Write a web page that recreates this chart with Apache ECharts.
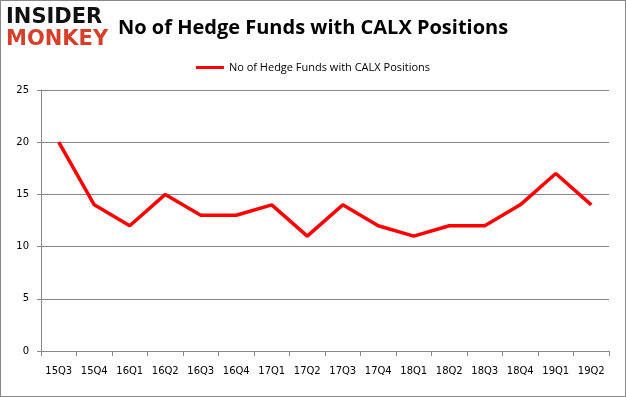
<!DOCTYPE html>
<html>
<head>
<meta charset="utf-8">
<script src="https://cdn.jsdelivr.net/npm/echarts@6/dist/echarts.min.js"></script>
<style>
  html, body { margin: 0; padding: 0; background: #fff; }
  #chart { width: 626px; height: 397px; box-sizing: border-box; border: 1px solid #888; }
</style>
</head>
<body>
<div id="chart"></div>
<script>
// quarters and hedge fund counts
const quarters = ['15Q3', '15Q4', '16Q1', '16Q2', '16Q3', '16Q4', '17Q1', '17Q2',
  '17Q3', '17Q4', '18Q1', '18Q2', '18Q3', '18Q4', '19Q1', '19Q2'];
const fundCounts = [20, 14, 12, 15, 13, 13, 14, 11, 14, 12, 11, 12, 12, 14, 17, 14];
const seriesName = 'No of Hedge Funds with CALX Positions';

const chart = echarts.init(document.getElementById('chart'));

chart.setOption({
  animation: false,
  title: {
    text: 'No of Hedge Funds with CALX Positions',
    left: 112,
    top: 12,
    textStyle: { fontFamily: 'Open Sans', fontWeight: 'bold', fontSize: 20, color: '#000' }
  },
  graphic: [
    {
      type: 'text', left: 5, top: 6,
      style: { text: 'INSIDER', font: '900 21px "DejaVu Sans"', fill: '#111' }
    },
    {
      type: 'text', left: 5, top: 28,
      style: { text: 'MONKEY', font: '900 21px "DejaVu Sans"', fill: '#d6402b' }
    }
  ],
  legend: {
    data: [seriesName],
    top: 56,
    left: 'center',
    itemWidth: 28,
    itemHeight: 3,
    icon: 'rect',
    textStyle: { fontFamily: 'Open Sans', fontSize: 11, color: '#000' }
  },
  grid: { left: 40, right: 16, top: 89, bottom: 45 },
  xAxis: {
    type: 'category',
    data: quarters,
    boundaryGap: true,
    axisLine: { lineStyle: { color: '#888' } },
    axisTick: { show: true, length: 5, interval: 0, lineStyle: { color: '#888' } },
    axisLabel: { interval: 0, color: '#000', fontFamily: 'DejaVu Sans', fontSize: 10, margin: 15 }
  },
  yAxis: {
    type: 'value',
    min: 0,
    max: 25,
    interval: 5,
    axisLine: { show: true, lineStyle: { color: '#888' } },
    axisTick: { show: true, length: 4, lineStyle: { color: '#888' } },
    axisLabel: { color: '#000', fontFamily: 'DejaVu Sans', fontSize: 10, margin: 12 },
    splitLine: { lineStyle: { color: '#888' } }
  },
  series: [{
    name: seriesName,
    type: 'line',
    data: fundCounts,
    symbol: 'none',
    lineStyle: { color: '#ff0000', width: 3.5 },
    itemStyle: { color: '#ff0000' }
  }]
});
</script>
</body>
</html>
